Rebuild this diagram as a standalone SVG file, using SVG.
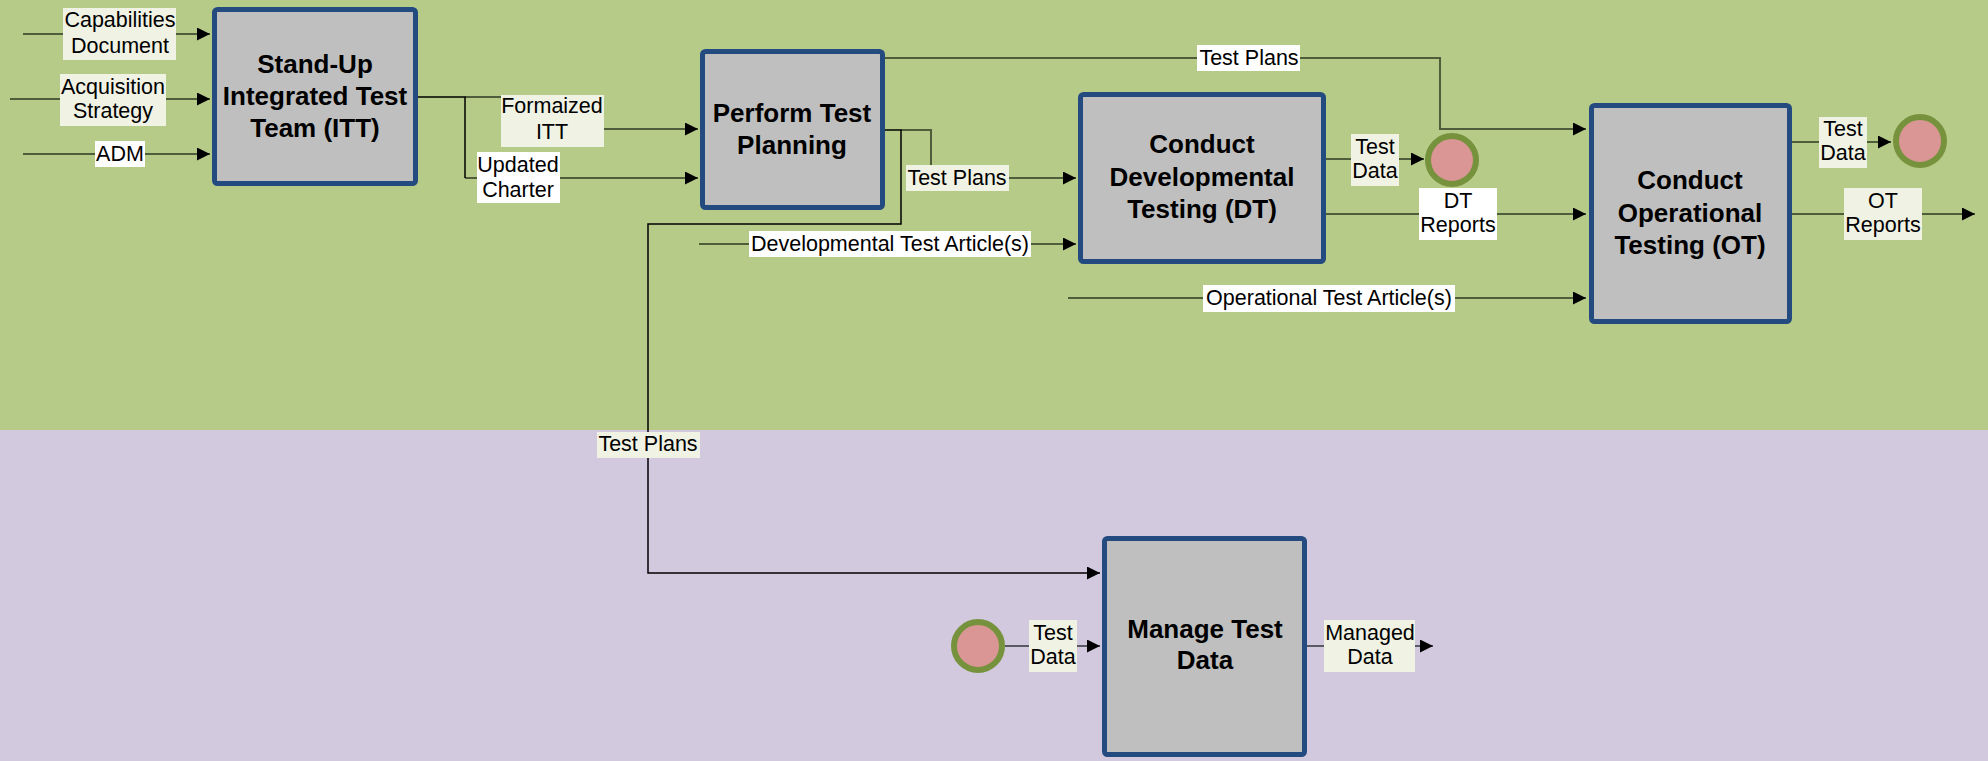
<svg xmlns="http://www.w3.org/2000/svg" width="1988" height="761" viewBox="0 0 1988 761">
<defs>
<marker id="arr" markerUnits="userSpaceOnUse" markerWidth="14" markerHeight="14" refX="13" refY="6.5" orient="auto">
<path d="M0,0 L13,6.5 L0,13 z" fill="#000"/>
</marker>
<style>
.box{fill:#BFBFBF;stroke:#244B80;stroke-width:5}
.nt{font-family:"Liberation Sans",Arial,sans-serif;font-weight:bold;font-size:26px;fill:#000;text-anchor:middle}
.lt{font-family:"Liberation Sans",Arial,sans-serif;font-size:21.5px;fill:#000;text-anchor:middle}
.ln{fill:none;stroke:#4F5D3A;stroke-width:2}
.lb{fill:none;stroke:#000;stroke-width:1.5}
.lg{fill:none;stroke:#5A5A62;stroke-width:2}
.cr{fill:#F0F2E4}
.wh{fill:#FFFFFF}
.ev{fill:#DA9694;stroke:#76923C;stroke-width:6}
</style>
</defs>
<rect x="0" y="0" width="1988" height="430" fill="#B7CB89"/>
<rect x="0" y="430" width="1988" height="331" fill="#D2C9DF"/>

<g id="connectors">
<path class="ln" d="M23,34 H210" marker-end="url(#arr)"/>
<path class="ln" d="M10,99 H210" marker-end="url(#arr)"/>
<path class="ln" d="M23,154 H210" marker-end="url(#arr)"/>
<path class="ln" d="M465,97 H552 V129 H698" marker-end="url(#arr)"/>
<path class="ln" d="M465,178 H698" marker-end="url(#arr)"/>
<path class="lb" d="M418,97 H465 V178"/>
<path class="ln" d="M884,106 V58 H1440 V129 H1586" marker-end="url(#arr)"/>
<path class="ln" d="M901,130 H931 V178 H1076" marker-end="url(#arr)"/>
<path class="lb" d="M883,130 H901 V224 H648 V573 H1100" marker-end="url(#arr)"/>
<path class="ln" d="M699,244 H1076" marker-end="url(#arr)"/>
<path class="ln" d="M1068,298 H1586" marker-end="url(#arr)"/>
<path class="ln" d="M1326,159 H1424" marker-end="url(#arr)"/>
<path class="ln" d="M1326,214 H1586" marker-end="url(#arr)"/>
<path class="ln" d="M1792,142 H1891" marker-end="url(#arr)"/>
<path class="ln" d="M1792,214 H1975" marker-end="url(#arr)"/>
<path class="lg" d="M1005,646 H1100" marker-end="url(#arr)"/>
<path class="lg" d="M1307,646 H1433" marker-end="url(#arr)"/>

<rect class="cr" x="63" y="8" width="113" height="52"/>
<text class="lt" x="120" y="27">Capabilities</text>
<text class="lt" x="120" y="53">Document</text>
<rect class="cr" x="60" y="74" width="106" height="52"/>
<text class="lt" x="113" y="94">Acquisition</text>
<text class="lt" x="113" y="118">Strategy</text>
<rect class="wh" x="95" y="141" width="50" height="26"/>
<text class="lt" x="120" y="161">ADM</text>
<rect class="cr" x="501" y="95" width="103" height="52"/>
<text class="lt" x="552" y="113">Formaized</text>
<text class="lt" x="552" y="139">ITT</text>
<rect class="wh" x="477" y="152" width="83" height="51"/>
<text class="lt" x="518" y="172">Updated</text>
<text class="lt" x="518" y="197">Charter</text>
<rect class="cr" x="906" y="165" width="103" height="26"/>
<text class="lt" x="957" y="185">Test Plans</text>
<rect class="wh" x="749" y="231" width="282" height="26"/>
<text class="lt" x="890" y="251">Developmental Test Article(s)</text>
<rect class="wh" x="1197" y="45" width="103" height="26"/>
<text class="lt" x="1249" y="65">Test Plans</text>
<rect class="wh" x="1203" y="285" width="252" height="27"/>
<text class="lt" x="1329" y="305">Operational Test Article(s)</text>
<rect class="cr" x="1351" y="134" width="48" height="52"/>
<text class="lt" x="1375" y="154">Test</text>
<text class="lt" x="1375" y="178">Data</text>
<rect class="wh" x="1419" y="188" width="78" height="52"/>
<text class="lt" x="1458" y="208">DT</text>
<text class="lt" x="1458" y="232">Reports</text>
<rect class="cr" x="1819" y="117" width="48" height="51"/>
<text class="lt" x="1843" y="136">Test</text>
<text class="lt" x="1843" y="160">Data</text>
<rect class="cr" x="1844" y="188" width="78" height="52"/>
<text class="lt" x="1883" y="208">OT</text>
<text class="lt" x="1883" y="232">Reports</text>
<rect class="cr" x="597" y="432" width="103" height="26"/>
<text class="lt" x="648" y="451">Test Plans</text>
<rect class="cr" x="1029" y="620" width="48" height="52"/>
<text class="lt" x="1053" y="640">Test</text>
<text class="lt" x="1053" y="664">Data</text>
<rect class="cr" x="1324" y="620" width="91" height="52"/>
<text class="lt" x="1370" y="640">Managed</text>
<text class="lt" x="1370" y="664">Data</text>
</g>

<g id="itt">
<rect class="box" x="214.5" y="9.5" width="201" height="174" rx="3"/>
<text class="nt" x="315" y="73">Stand-Up</text>
<text class="nt" x="315" y="105">Integrated Test</text>
<text class="nt" x="315" y="137">Team (ITT)</text>
</g>
<g id="ptp">
<rect class="box" x="702.5" y="51.5" width="180" height="156" rx="3"/>
<text class="nt" x="792" y="122">Perform Test</text>
<text class="nt" x="792" y="154">Planning</text>
</g>
<g id="dt">
<rect class="box" x="1080.5" y="94.5" width="243" height="167" rx="3"/>
<text class="nt" x="1202" y="153">Conduct</text>
<text class="nt" x="1202" y="186">Developmental</text>
<text class="nt" x="1202" y="218">Testing (DT)</text>
</g>
<g id="ot">
<rect class="box" x="1591.5" y="105.5" width="198" height="216" rx="3"/>
<text class="nt" x="1690" y="189">Conduct</text>
<text class="nt" x="1690" y="222">Operational</text>
<text class="nt" x="1690" y="254">Testing (OT)</text>
</g>
<g id="mtd">
<rect class="box" x="1104.5" y="538.5" width="200" height="216" rx="3"/>
<text class="nt" x="1205" y="638">Manage Test</text>
<text class="nt" x="1205" y="669">Data</text>
</g>
<g id="ev-dt">
<circle class="ev" cx="1452" cy="160" r="24"/>
</g>
<g id="ev-ot">
<circle class="ev" cx="1920" cy="141" r="24"/>
</g>
<g id="ev-data">
<circle class="ev" cx="978" cy="646" r="24"/>
</g>
</svg>
